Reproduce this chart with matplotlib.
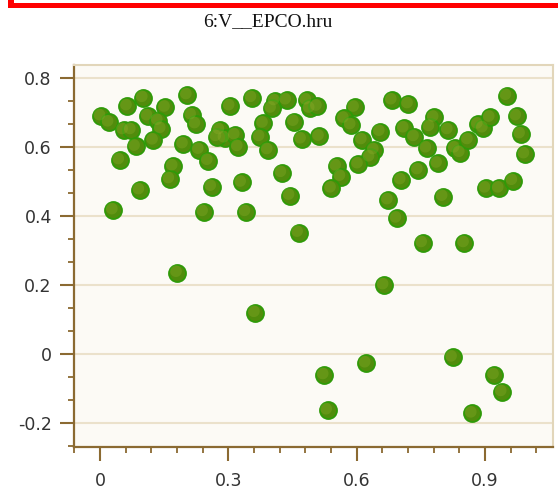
import numpy as np
import matplotlib
matplotlib.use('Agg')
import matplotlib.pyplot as plt
from matplotlib.patches import Rectangle
from matplotlib.path import Path
from matplotlib.ticker import MultipleLocator

# values
x_vals = [0.002, 0.021, 0.064, 0.101, 0.055, 0.073, 0.083, 0.046, 0.093, 0.031,
          0.112, 0.153, 0.136, 0.143, 0.125, 0.204, 0.214, 0.224, 0.195, 0.171,
          0.163, 0.232, 0.242, 0.304, 0.355, 0.409, 0.436, 0.401, 0.483, 0.491,
          0.508, 0.280, 0.292, 0.273, 0.316, 0.323, 0.382, 0.374, 0.393, 0.454,
          0.471, 0.513, 0.253, 0.261, 0.331, 0.425, 0.444, 0.341, 0.464, 0.595,
          0.571, 0.587, 0.613, 0.655, 0.641, 0.631, 0.604, 0.553, 0.563, 0.541,
          0.683, 0.721, 0.711, 0.735, 0.764, 0.781, 0.771, 0.744, 0.704, 0.674,
          0.694, 0.789, 0.802, 0.814, 0.830, 0.842, 0.861, 0.884, 0.896, 0.912,
          0.951, 0.974, 0.983, 0.993, 0.902, 0.933, 0.965, 0.181, 0.363, 0.754,
          0.852, 0.664, 0.524, 0.532, 0.622, 0.824, 0.922, 0.940, 0.870]
y_vals = [0.689, 0.671, 0.718, 0.742, 0.649, 0.649, 0.601, 0.562, 0.475, 0.417,
          0.689, 0.714, 0.676, 0.652, 0.619, 0.750, 0.692, 0.666, 0.608, 0.544,
          0.507, 0.592, 0.412, 0.718, 0.742, 0.733, 0.735, 0.711, 0.735, 0.711,
          0.717, 0.649, 0.625, 0.629, 0.634, 0.600, 0.668, 0.629, 0.591, 0.673,
          0.622, 0.630, 0.560, 0.485, 0.497, 0.525, 0.459, 0.412, 0.352, 0.714,
          0.682, 0.663, 0.620, 0.644, 0.591, 0.570, 0.550, 0.544, 0.514, 0.480,
          0.735, 0.724, 0.654, 0.629, 0.596, 0.685, 0.658, 0.533, 0.504, 0.446,
          0.393, 0.552, 0.456, 0.649, 0.596, 0.583, 0.620, 0.665, 0.654, 0.685,
          0.748, 0.689, 0.637, 0.579, 0.480, 0.480, 0.502, 0.236, 0.120, 0.322,
          0.322, 0.200, -0.060, -0.162, -0.026, -0.009, -0.060, -0.109, -0.171]
title = '6:V__EPCO.hru'

W, H = 558, 490
fig = plt.figure(figsize=(W / 100, H / 100), dpi=100)
fig.patch.set_facecolor('white')

# red frame edge at the top
def px_rect(x0, y0, x1, y1):
    return Rectangle((x0 / W, 1 - y1 / H), (x1 - x0) / W, (y1 - y0) / H,
                     transform=fig.transFigure, facecolor='#ff0000', edgecolor='none')
fig.patches.append(px_rect(8, 3.3, 558, 8.3))
fig.patches.append(px_rect(8, 0, 14, 8.3))

fig.text(268 / W, 1 - 22 / H, title, ha='center', va='center',
         family='Liberation Serif', fontsize=14, color='#111111')

ax = fig.add_axes([74 / W, 1 - 446.7 / H, (552.7 - 74) / W, (446.7 - 65) / H])
ax.set_facecolor('#fcfaf5')
ax.set_xlim(-0.0608, 1.0582)
ax.set_ylim(-0.2677, 0.8367)

ax.xaxis.set_major_locator(MultipleLocator(0.3))
ax.xaxis.set_minor_locator(MultipleLocator(0.06))
ax.yaxis.set_major_locator(MultipleLocator(0.2))
ax.yaxis.set_minor_locator(MultipleLocator(0.2 / 3))
fmt = plt.FuncFormatter(lambda v, p: '0' if abs(v) < 1e-9 else ('%g' % round(v, 2)))
ax.xaxis.set_major_formatter(fmt)
ax.yaxis.set_major_formatter(fmt)

ax.grid(True, which='major', axis='y', color='#ebe1cb', linewidth=1.5)
ax.set_axisbelow(True)

brown = '#8b6a32'
for s in ['left', 'bottom']:
    ax.spines[s].set_color(brown)
    ax.spines[s].set_linewidth(1.6)
for s in ['top', 'right']:
    ax.spines[s].set_color('#e2d6ba')
    ax.spines[s].set_linewidth(1.5)

ax.tick_params(which='major', direction='out', length=10, width=1.5, color=brown,
               labelsize=12.5, labelcolor='#333333', pad=6)
ax.tick_params(which='minor', direction='out', length=4.5, width=1.3, color=brown)
ax.tick_params(axis='x', which='major', pad=8)

# green balls: base circle plus a soft highlight toward the top-left
ax.scatter(x_vals, y_vals, s=150, c='#518c0c', edgecolors='#2f9a08', linewidths=1.3, zorder=3)
t = np.linspace(0, 2 * np.pi, 40)
hl_path = Path(np.column_stack([-0.1 + 0.4 * np.cos(t), 0.1 + 0.4 * np.sin(t)]))
ax.scatter(x_vals, y_vals, s=110, marker=hl_path, c='#96b030', alpha=0.3,
           edgecolors='none', zorder=4)

fig.savefig('out.png', dpi=100)
